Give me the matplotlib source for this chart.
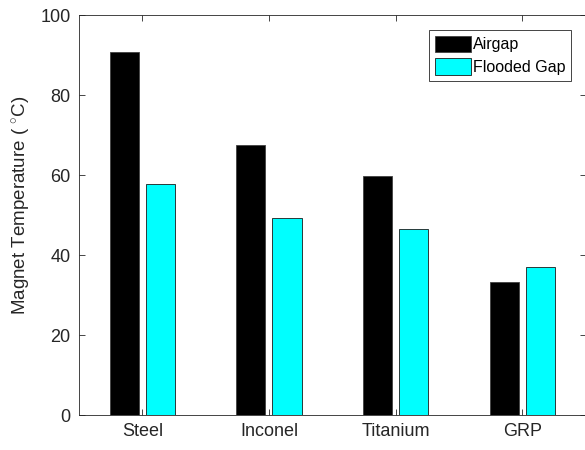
import matplotlib
matplotlib.use('Agg')
import matplotlib.pyplot as plt
import numpy as np

plt.rcParams['font.family'] = ['Liberation Sans', 'DejaVu Sans']
plt.rcParams['mathtext.fontset'] = 'custom'
plt.rcParams['mathtext.rm'] = 'Liberation Sans'
plt.rcParams['mathtext.it'] = 'Liberation Sans'

materials = ['Steel', 'Inconel', 'Titanium', 'GRP']
airgap = [90.7, 67.6, 59.8, 33.3]
flooded_gap = [57.7, 49.3, 46.5, 37.0]
y_ticks = [0, 20, 40, 60, 80, 100]

text_col = '#262626'
x = np.arange(1, len(materials) + 1)

fig = plt.figure(figsize=(5.85, 4.5), dpi=100)
ax = fig.add_axes([79 / 585, 35 / 450, 506.5 / 585, 400 / 450])

ax.bar(x - 0.143, airgap, width=0.23, color='black', edgecolor='#404040',
       linewidth=0.6, label='Airgap')
ax.bar(x + 0.143, flooded_gap, width=0.23, color='cyan', edgecolor='#1a1a1a',
       linewidth=0.6, label='Flooded Gap')

ax.set_xlim(0.5, 4.5)
ax.set_ylim(0, 100)
ax.set_xticks(x)
ax.set_xticklabels(materials)
ax.set_yticks(y_ticks)
ax.set_ylabel(r'Magnet Temperature ( $^{\circ}$C)', fontsize=13.5, color=text_col)
ax.yaxis.set_label_coords(-0.09, 0.525)

ax.tick_params(direction='in', length=4, width=0.6, top=True, right=True,
               labelsize=13, colors=text_col, pad=6)
for s in ax.spines.values():
    s.set_color(text_col)
    s.set_linewidth(0.6)

leg = ax.legend(loc='upper right', bbox_to_anchor=(0.9717, 0.9625), borderaxespad=0,
                fontsize=11.5, fancybox=False, framealpha=1, edgecolor=text_col,
                handlelength=2.25, handleheight=1.25, handletextpad=0.15,
                borderpad=0.35, labelspacing=0.35)
leg.get_frame().set_linewidth(0.6)

fig.savefig('out.png', dpi=100)
